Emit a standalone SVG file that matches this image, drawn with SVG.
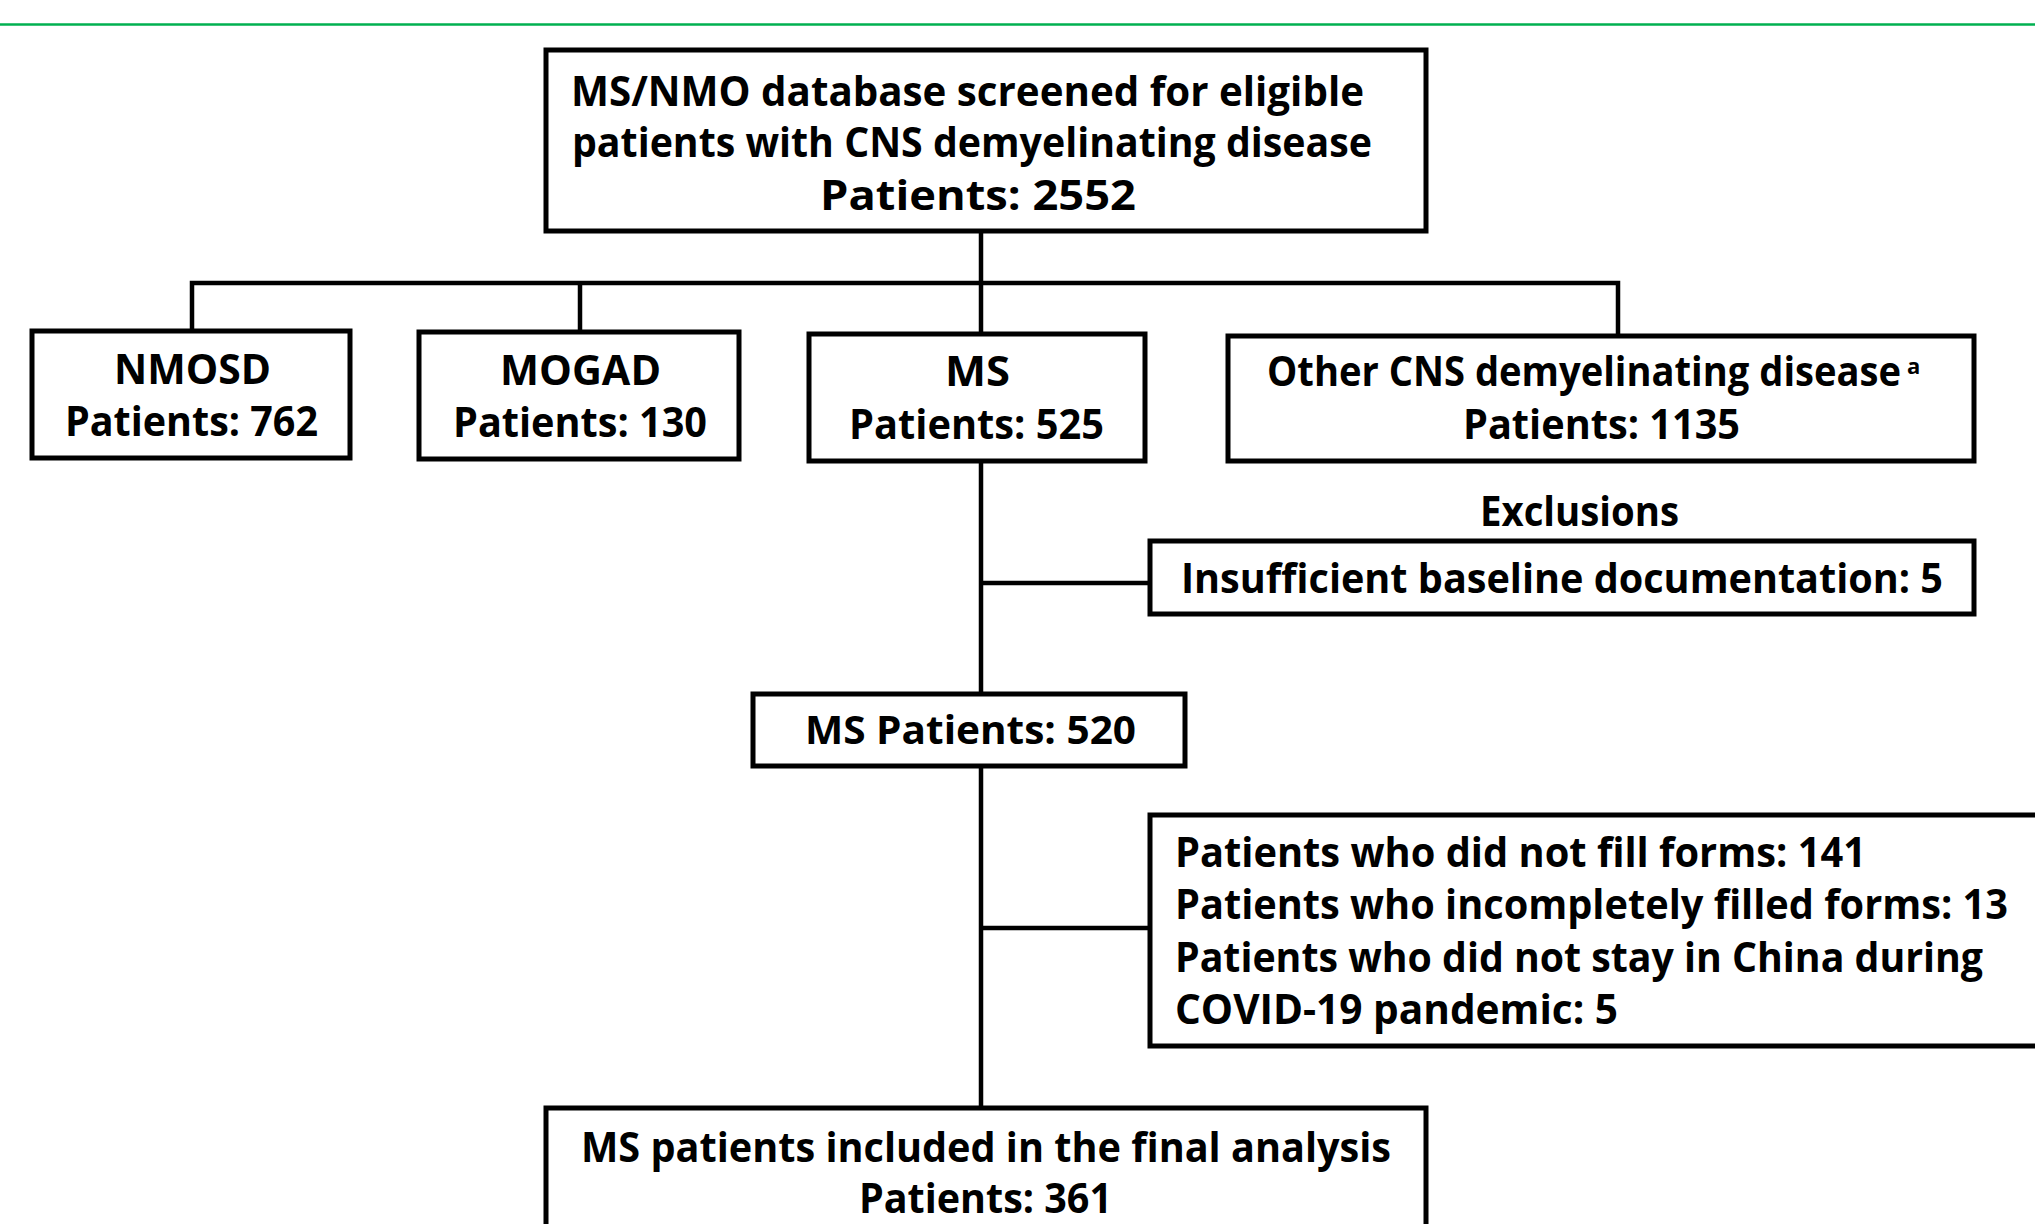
<svg xmlns="http://www.w3.org/2000/svg" width="2035" height="1224" viewBox="0 0 2035 1224">
<style>
.box{fill:#fff;stroke:#000;stroke-width:5}
.ln{stroke:#000;stroke-width:4.5;fill:none}
.t{font-family:"Open Sans","Liberation Sans",sans-serif;font-weight:700;font-size:41px;fill:#000}
.b{font-family:"Open Sans","Liberation Sans",sans-serif;font-weight:700;font-size:40px;fill:#000}
</style>
<rect x="0" y="0" width="2035" height="1224" fill="#fff"/>
<line x1="0" y1="24.5" x2="2035" y2="24.5" stroke="#00b050" stroke-width="2.5"/>
<g id="connectors">
<line class="ln" x1="981" y1="231" x2="981" y2="334"/>
<polyline class="ln" points="192,331 192,283 1618,283 1618,336"/>
<line class="ln" x1="580" y1="283" x2="580" y2="332"/>
<line class="ln" x1="981" y1="461" x2="981" y2="693"/>
<line class="ln" x1="981" y1="583" x2="1150" y2="583"/>
<line class="ln" x1="981" y1="766" x2="981" y2="1107"/>
<line class="ln" x1="981" y1="928" x2="1150" y2="928"/>
</g>
<g id="top">
<rect class="box" x="546" y="50" width="880" height="181"/>
<text class="t" x="571" y="106" textLength="793" lengthAdjust="spacingAndGlyphs">MS/NMO database screened for eligible</text>
<text class="t" x="572" y="157" textLength="800" lengthAdjust="spacingAndGlyphs">patients with CNS demyelinating disease</text>
<text class="t" x="820" y="210" textLength="316" lengthAdjust="spacingAndGlyphs">Patients: 2552</text>
</g>
<g id="nmosd">
<rect class="box" x="32" y="331" width="318" height="127"/>
<text class="t" x="114" y="384" textLength="157" lengthAdjust="spacingAndGlyphs">NMOSD</text>
<text class="t" x="65" y="436" textLength="253" lengthAdjust="spacingAndGlyphs">Patients: 762</text>
</g>
<g id="mogad">
<rect class="box" x="419" y="332" width="320" height="127"/>
<text class="t" x="500" y="385" textLength="161" lengthAdjust="spacingAndGlyphs">MOGAD</text>
<text class="t" x="453" y="437" textLength="254" lengthAdjust="spacingAndGlyphs">Patients: 130</text>
</g>
<g id="ms">
<rect class="box" x="809" y="334" width="336" height="127"/>
<text class="t" x="945" y="386" textLength="65" lengthAdjust="spacingAndGlyphs">MS</text>
<text class="t" x="849" y="439" textLength="255" lengthAdjust="spacingAndGlyphs">Patients: 525</text>
</g>
<g id="other">
<rect class="box" x="1228" y="336" width="746" height="125"/>
<text class="t" x="1267" y="386"><tspan textLength="634" lengthAdjust="spacingAndGlyphs">Other CNS demyelinating disease</tspan><tspan x="1907" y="374" font-size="22">a</tspan></text>
<text class="t" x="1463" y="439" textLength="277" lengthAdjust="spacingAndGlyphs">Patients: 1135</text>
</g>
<g id="exclusions-label">
<text class="t" x="1480" y="526" textLength="199" lengthAdjust="spacingAndGlyphs">Exclusions</text>
</g>
<g id="excl1">
<rect class="box" x="1150" y="541" width="824" height="73"/>
<text class="t" x="1181" y="593" textLength="762" lengthAdjust="spacingAndGlyphs">Insufficient baseline documentation: 5</text>
</g>
<g id="ms520">
<rect class="box" x="753" y="694" width="432" height="72"/>
<text class="b" x="805" y="744" textLength="331" lengthAdjust="spacingAndGlyphs">MS Patients: 520</text>
</g>
<g id="excl2">
<rect class="box" x="1150" y="815" width="900" height="231"/>
<text class="t" x="1175" y="867" textLength="691" lengthAdjust="spacingAndGlyphs">Patients who did not fill forms: 141</text>
<text class="t" x="1175" y="919" textLength="833" lengthAdjust="spacingAndGlyphs">Patients who incompletely filled forms: 13</text>
<text class="t" x="1175" y="972" textLength="808" lengthAdjust="spacingAndGlyphs">Patients who did not stay in China during</text>
<text class="t" x="1175" y="1024" textLength="443" lengthAdjust="spacingAndGlyphs">COVID-19 pandemic: 5</text>
</g>
<g id="final">
<rect class="box" x="546" y="1108" width="880" height="140"/>
<text class="t" x="581" y="1162" textLength="810" lengthAdjust="spacingAndGlyphs">MS patients included in the final analysis</text>
<text class="t" x="859" y="1213" textLength="253" lengthAdjust="spacingAndGlyphs">Patients: 361</text>
</g>
</svg>
